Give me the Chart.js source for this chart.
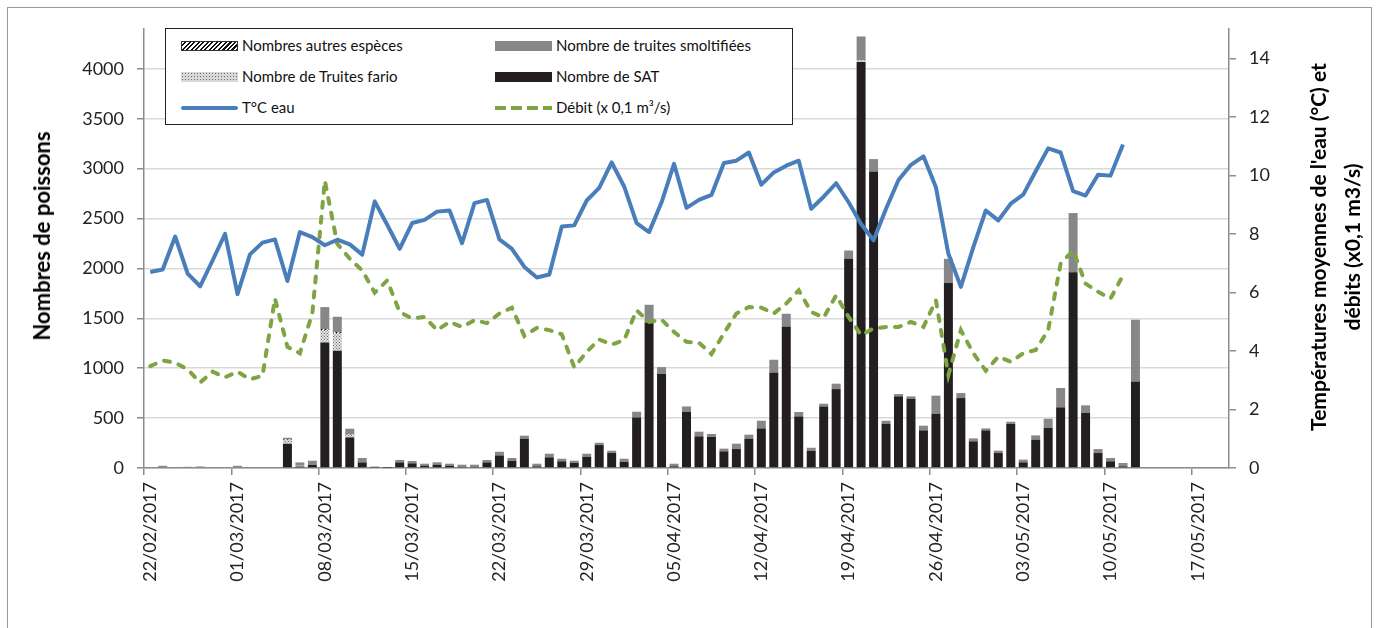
<!DOCTYPE html>
<html><head><meta charset="utf-8">
<script src="https://cdn.jsdelivr.net/npm/chart.js@4.4.0/dist/chart.umd.min.js"></script>
<style>
html,body{margin:0;padding:0;background:#fff;}
#wrap{position:relative;width:1379px;height:628px;overflow:hidden;font-family:Lato,"Noto Sans",sans-serif;}
#frame{position:absolute;left:7px;top:7px;width:1363px;height:700px;border:1px solid #9a9a9a;}
canvas{position:absolute;left:0;top:0;}
.ttl{position:absolute;font-weight:bold;font-size:21px;color:#000;white-space:nowrap;transform:translate(-50%,-50%) rotate(-90deg);line-height:24px;}
#legend{position:absolute;left:165px;top:28px;width:626px;height:95px;border:1px solid #222;background:#fff;}
.it{position:absolute;font-size:15px;color:#111;white-space:nowrap;height:20px;line-height:20px;}
.sw{display:inline-block;vertical-align:middle;width:57px;height:10px;margin-right:4px;position:relative;top:-1px;}
</style></head>
<body>
<div id="wrap">
  <div id="frame"></div>
  <canvas id="c" width="1379" height="628"></canvas>
  <div class="ttl" style="left:42px;top:236px;font-size:22px;">Nombres de poissons</div>
  <div class="ttl" style="left:1318px;top:247px;">Températures moyennes de l'eau (°C) et</div>
  <div class="ttl" style="left:1352px;top:247px;">débits (x0,1 m3/s)</div>
  <div id="legend">
    <div class="it" style="left:15px;top:6px;"><span class="sw" style="background:repeating-linear-gradient(135deg,#111 0 1.6px,#fff 1.6px 3.2px);outline:1px solid #333;outline-offset:-1px;"></span>Nombres autres espèces</div>
    <div class="it" style="left:329px;top:6px;"><span class="sw" style="background:#87878a;"></span>Nombre de truites smoltifiées</div>
    <div class="it" style="left:15px;top:37px;"><span class="sw" style="background-color:#d8d8d8;background-image:radial-gradient(#6e6e6e 0.7px,transparent 1px);background-size:3px 3px;"></span>Nombre de Truites fario</div>
    <div class="it" style="left:329px;top:37px;"><span class="sw" style="background:#231f20;"></span>Nombre de SAT</div>
    <div class="it" style="left:15px;top:68px;"><span class="sw" style="height:4px;border-radius:2px;background:#4a7ebb;"></span>T°C eau</div>
    <div class="it" style="left:329px;top:68px;"><span class="sw" style="height:4px;background:repeating-linear-gradient(90deg,#7fa443 0 11px,transparent 11px 16px);"></span>Débit (x 0,1 m³/s)</div>
  </div>
</div>
<script>
const categories = [
 "22/02/2017","23/02/2017","24/02/2017","25/02/2017","26/02/2017","27/02/2017","28/02/2017",
 "01/03/2017","02/03/2017","03/03/2017","04/03/2017","05/03/2017","06/03/2017","07/03/2017","08/03/2017","09/03/2017","10/03/2017",
 "11/03/2017","12/03/2017","13/03/2017","14/03/2017","15/03/2017","16/03/2017","17/03/2017","18/03/2017","19/03/2017","20/03/2017",
 "21/03/2017","22/03/2017","23/03/2017","24/03/2017","25/03/2017","26/03/2017","27/03/2017","28/03/2017","29/03/2017","30/03/2017","31/03/2017",
 "01/04/2017","02/04/2017","03/04/2017","04/04/2017","05/04/2017","06/04/2017","07/04/2017","08/04/2017","09/04/2017","10/04/2017",
 "11/04/2017","12/04/2017","13/04/2017","14/04/2017","15/04/2017","16/04/2017","17/04/2017","18/04/2017","19/04/2017","20/04/2017",
 "21/04/2017","22/04/2017","23/04/2017","24/04/2017","25/04/2017","26/04/2017","27/04/2017","28/04/2017","29/04/2017","30/04/2017",
 "01/05/2017","02/05/2017","03/05/2017","04/05/2017","05/05/2017","06/05/2017","07/05/2017","08/05/2017","09/05/2017","10/05/2017",
 "11/05/2017","12/05/2017","13/05/2017","14/05/2017","15/05/2017","16/05/2017","17/05/2017","18/05/2017","19/05/2017"
];
const leftTicks = [0,500,1000,1500,2000,2500,3000,3500,4000];
const rightTicks = [0,2,4,6,8,10,12,14];

const sat = [0,0,0,0,0,0,0,0,0,0,0,
 243,15,30,1258,1175,307,56,5,3,56,47,23,33,23,10,10,56,126,73,294,17,107,67,50,113,230,150,60,507,1459,941,17,564,317,311,167,190,294,397,958,1419,517,173,617,791,2097,4070,2972,444,718,695,377,544,1854,701,267,377,150,441,57,284,401,608,1961,551,150,67,17,868,
 0,0,0,0,0,0,0];
const fario = [0,0,0,0,0,0,0,0,0,0,0,
 35,8,0,125,178,25,0,0,0,0,0,0,0,0,0,0,0,0,0,0,0,0,0,0,0,0,0,0,0,0,0,0,0,0,0,0,0,0,0,0,0,0,0,0,0,0,15,0,0,0,0,0,0,0,0,0,0,0,0,0,0,0,0,0,0,0,0,0,0,
 0,0,0,0,0,0,0];
const autres = [0,0,0,0,0,0,0,0,0,0,0,
 8,0,0,10,10,5,0,0,0,0,0,0,0,0,0,0,0,0,0,0,0,0,0,0,0,0,0,0,0,0,0,0,0,0,0,0,0,0,0,0,0,0,0,0,0,0,0,0,0,0,0,0,0,0,0,0,0,0,0,0,0,0,0,0,0,0,0,0,0,
 0,0,0,0,0,0,0];
const smolt = [10,22,0,12,15,10,10,22,8,8,8,
 17,33,43,220,153,57,44,10,7,24,23,20,24,20,23,23,24,37,27,30,26,36,26,23,30,23,23,33,57,177,70,26,53,47,30,27,54,40,77,127,127,44,30,27,54,83,240,124,30,23,23,47,181,243,50,30,20,24,23,27,43,93,194,594,77,40,33,33,618,
 0,0,0,0,0,0,0];
const tempEau = [6.70,6.78,7.91,6.64,6.21,7.09,8.00,5.94,7.30,7.70,7.81,6.39,8.06,7.89,7.61,7.80,7.64,7.29,9.11,8.31,
 7.49,8.37,8.48,8.76,8.80,7.68,9.05,9.16,7.81,7.49,6.87,6.51,6.61,8.25,8.29,9.14,9.57,10.44,9.62,8.37,
 8.06,9.08,10.39,8.89,9.16,9.33,10.42,10.50,10.78,9.68,10.10,10.33,10.50,8.86,9.27,9.73,9.08,8.34,7.78,8.86,
 9.84,10.36,10.65,9.59,7.32,6.19,7.55,8.80,8.46,9.03,9.34,10.14,10.92,10.78,9.46,9.31,10.02,9.99,11.05,
 null,null,null,null,null,null,null,null];
const debit = [3.48,3.67,3.60,3.37,2.92,3.29,3.10,3.29,3.03,3.15,5.79,4.14,3.92,5.29,9.82,7.66,7.15,6.75,5.99,6.41,
 5.33,5.11,5.16,4.71,4.99,4.82,5.05,4.95,5.28,5.48,4.51,4.79,4.71,4.57,3.44,3.97,4.39,4.22,4.37,5.39,
 4.99,5.07,4.65,4.31,4.28,3.89,4.60,5.28,5.50,5.48,5.28,5.62,6.07,5.33,5.14,5.90,5.16,4.54,4.77,4.82,
 4.82,4.99,4.82,5.73,3.18,4.71,3.92,3.32,3.80,3.63,3.92,4.03,4.71,6.98,7.44,6.30,6.02,5.79,6.58,
 null,null,null,null,null,null,null,null];

function makePattern(kind){
  const p = document.createElement('canvas');
  const g = p.getContext('2d');
  if(kind==='dots'){
    p.width=3;p.height=3;
    g.fillStyle='#e2e2e2';g.fillRect(0,0,3,3);
    g.fillStyle='#6e6e6e';g.fillRect(0,0,1,1);g.fillRect(1.5,1.5,1,1);
  } else {
    p.width=4;p.height=4;
    g.fillStyle='#fff';g.fillRect(0,0,4,4);
    g.strokeStyle='#111';g.lineWidth=1.3;
    g.beginPath();g.moveTo(0,0);g.lineTo(4,4);g.moveTo(-2,2);g.lineTo(2,6);g.moveTo(2,-2);g.lineTo(6,2);g.stroke();
  }
  return g.createPattern(p,'repeat');
}

function draw(){
  const ctx = document.getElementById('c').getContext('2d');
  const tickFont = {family:'Lato', size:18};
  const axisGray = '#8c8c8c';
  new Chart(ctx,{
    type:'bar',
    data:{
      labels:categories,
      datasets:[
        {type:'line',label:'T°C eau',data:tempEau,yAxisID:'y2',borderColor:'#4a7ebb',borderWidth:4,pointRadius:0,tension:0,order:0,borderJoinStyle:'round'},
        {type:'line',label:'Débit (x 0,1 m³/s)',data:debit,yAxisID:'y2',borderColor:'#7fa443',borderWidth:4,borderDash:[6,9],borderCapStyle:'round',pointRadius:0,tension:0,order:0},
        {label:'Nombre de SAT',data:sat,backgroundColor:'#231f20',yAxisID:'y',stack:'s',order:1},
        {label:'Nombre de Truites fario',data:fario,backgroundColor:makePattern('dots'),yAxisID:'y',stack:'s',order:1},
        {label:'Nombres autres espèces',data:autres,backgroundColor:makePattern('hatch'),yAxisID:'y',stack:'s',order:1},
        {label:'Nombre de truites smoltifiées',data:smolt,backgroundColor:'#87878a',yAxisID:'y',stack:'s',order:1}
      ]
    },
    options:{
      responsive:false,animation:false,devicePixelRatio:1,
      layout:{padding:{top:29,left:0,right:0,bottom:0}},
      plugins:{legend:{display:false},tooltip:{enabled:false}},
      datasets:{bar:{barPercentage:0.72,categoryPercentage:1}},
      scales:{
        x:{
          stacked:true,offset:true,
          grid:{offset:true,drawOnChartArea:false,tickLength:7,lineWidth:1.5,
            color:c=>(c.index!==undefined && c.index%7===0)?axisGray:'rgba(0,0,0,0)'},
          border:{color:axisGray,width:1.5},
          ticks:{autoSkip:false,maxRotation:90,minRotation:90,padding:7,font:tickFont,color:'#222',
            callback:(v,i)=>(i%7===0?categories[i]:'')},
          afterFit:s=>{s.height=160;}
        },
        y:{
          stacked:true,position:'left',min:0,max:4400,
          afterBuildTicks:s=>{s.ticks=leftTicks.map(v=>({value:v}));},
          ticks:{padding:13,font:tickFont,color:'#222',callback:v=>String(v)},
          grid:{color:'#d9d9d9',lineWidth:1.5,tickLength:7,tickColor:axisGray},
          border:{color:axisGray,width:1.5},
          afterFit:s=>{s.width=144;}
        },
        y2:{
          position:'right',min:0,max:15,
          afterBuildTicks:s=>{s.ticks=rightTicks.map(v=>({value:v}));},
          ticks:{padding:13,font:tickFont,color:'#222',callback:v=>String(v)},
          grid:{drawOnChartArea:false,tickLength:7,color:axisGray,lineWidth:1.5},
          border:{color:axisGray,width:1.5},
          afterFit:s=>{s.width=150;}
        }
      }
    }
  });
}
if(document.fonts && document.fonts.load){
  Promise.all([document.fonts.load('18px Lato'),document.fonts.load('bold 21px Lato')]).then(draw,draw);
} else draw();
</script>
</body></html>
